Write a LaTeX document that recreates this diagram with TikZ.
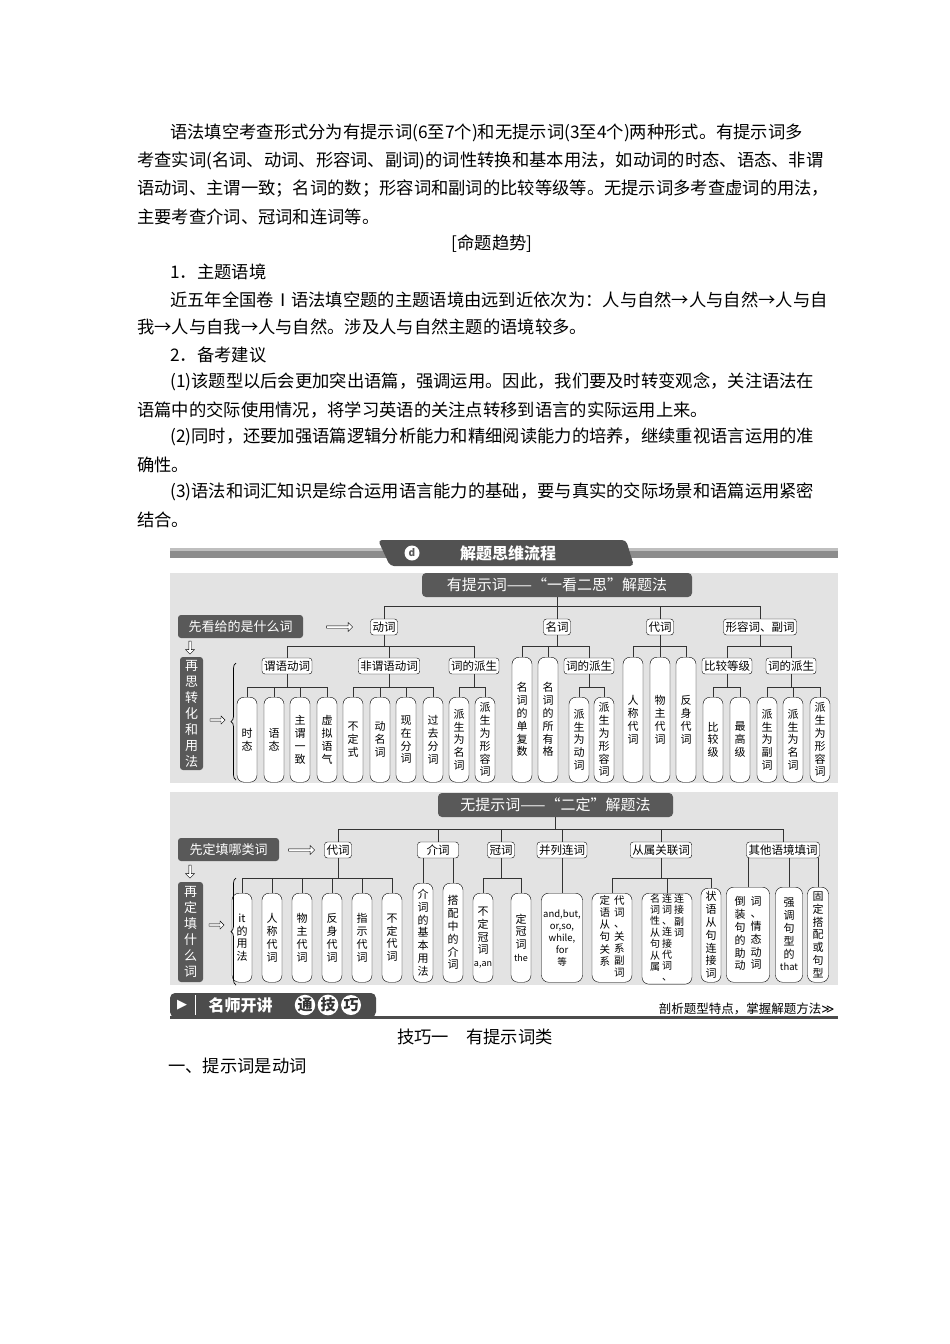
\documentclass[tikz,border=0pt]{standalone}
\usepackage{fontspec}
\setmainfont{Noto Sans CJK SC}
\newfontfamily\djv{DejaVu Sans}
\usetikzlibrary{shapes.arrows,decorations.pathreplacing}
\newcommand\vcl[1]{\begin{tabular}[t]{@{}c@{}}#1\end{tabular}}
\begin{document}
\begin{tikzpicture}[x=1pt,y=-1pt,
  body/.style={anchor=west,inner sep=0,font=\fontsize{17.3}{20}\selectfont},
  panel/.style={fill=black!11,draw=none},
  titlebox/.style={fill=black!65,text=white,rounded corners=4pt,font=\fontsize{15}{17}\selectfont,inner sep=0},
  darkbox/.style={fill=black!65,text=white,rounded corners=3pt,inner sep=0,align=center,font=\fontsize{13}{16}\selectfont},
  ibox/.style={draw,fill=white,rounded corners=3pt,inner sep=2pt,minimum height=16pt,font=\fontsize{11.5}{13}\selectfont},
  leaf/.style={draw,fill=white,rounded corners=7pt,anchor=north,inner sep=0.5pt,minimum width=20pt,align=center,font=\fontsize{11}{12.8}\selectfont},
  harrow/.style={draw,fill=white,single arrow,minimum height=26pt,minimum width=9pt,single arrow head extend=2.2pt,inner sep=0.6pt},
  varrow/.style={harrow,shape border rotate=270,minimum height=13pt},
  con/.style={line width=0.8pt,black!80},
  brc/.style={line width=0.7pt,decorate,decoration={brace,amplitude=5pt}}]
\useasboundingbox (0,0) rectangle (950,1344);
\fill[white] (0,0) rectangle (950,1344);
% body text
\node[body] (l1) at (170,133) {语法填空考查形式分为有提示词(6至7个)和无提示词(3至4个)两种形式。有提示词多};
\node[body] (l2) at (137,161) {考查实词(名词、动词、形容词、副词)的词性转换和基本用法，如动词的时态、语态、非谓};
\node[body] (l3) at (137,189) {语动词、主谓一致；名词的数；形容词和副词的比较等级等。无提示词多考查虚词的用法，};
\node[body] (l4) at (137,217) {主要考查介词、冠词和连词等。};
\node[body,anchor=center] (l5) at (492,244) {[命题趋势]};
\node[body] (l6) at (170,272) {1．主题语境};
\node[body] (l7) at (170,300) {近五年全国卷Ⅰ语法填空题的主题语境由远到近依次为：人与自然→人与自然→人与自};
\node[body] (l8) at (137,327) {我→人与自我→人与自然。涉及人与自然主题的语境较多。};
\node[body] (l9) at (170,355) {2．备考建议};
\node[body] (l10) at (170,382) {(1)该题型以后会更加突出语篇，强调运用。因此，我们要及时转变观念，关注语法在};
\node[body] (l11) at (137,410) {语篇中的交际使用情况，将学习英语的关注点转移到语言的实际运用上来。};
\node[body] (l12) at (170,437) {(2)同时，还要加强语篇逻辑分析能力和精细阅读能力的培养，继续重视语言运用的准};
\node[body] (l13) at (137,465) {确性。};
\node[body] (l14) at (170,492) {(3)语法和词汇知识是综合运用语言能力的基础，要与真实的交际场景和语篇运用紧密};
\node[body] (l15) at (137,520) {结合。};
% top banner
\fill[black!45] (170,548) rectangle (838,558);
\fill[black!25] (170,548) rectangle (838,551);
\fill[black!68,rounded corners=4pt] (378,540) -- (626,540) -- (634,566) -- (390,566) -- cycle;
\node[circle,fill=white,minimum size=15pt,inner sep=0,text=black!65,font=\bfseries\fontsize{10}{10}\selectfont] (ic) at (412,553) {d};
\node[text=white,font=\bfseries\fontsize{16}{18}\selectfont] (bt) at (508,553) {解题思维流程};
% panel 1
\fill[panel] (170,573) rectangle (838,783);
\node[titlebox,minimum width=270pt,minimum height=24pt] (t1) at (557,585) {有提示词——“一看二思”解题法};
\node[darkbox,minimum width=125pt,minimum height=23pt] (q1) at (240.5,626.5) {先看给的是什么词};
\node[harrow] (a1) at (339,627) {};
\node[ibox] (dong) at (384,627) {动词};
\node[ibox] (ming) at (557,627) {名词};
\node[ibox] (dai) at (660,627) {代词};
\node[ibox] (xing) at (760,627) {形容词、副词};
\coordinate (b0) at (0,606);
\coordinate (b1) at (0,646);
\coordinate (b2) at (0,687);
\draw[con] (t1.south) -- (t1.south|-b0);
\foreach \n in {dong,ming,dai,xing}{\draw[con] (\n.north) |- (t1.south|-b0);}
\node[ibox] (s1) at (287,666) {谓语动词};
\node[ibox] (s2) at (389,666) {非谓语动词};
\node[ibox] (s3) at (474,666) {词的派生};
\node[ibox] (s4) at (589,666) {词的派生};
\node[ibox] (s5) at (727,666) {比较等级};
\node[ibox] (s6) at (791,666) {词的派生};
\draw[con] (dong.south) -- (dong.south|-b1);
\foreach \n in {s1,s2,s3}{\draw[con] (\n.north) |- (dong.south|-b1);}
% verb leaves
\node[leaf,minimum height=85pt] (v1) at (247,697) {时\\态};
\node[leaf,minimum height=85pt] (v2) at (274,697) {语\\态};
\node[leaf,minimum height=85pt] (v3) at (300,697) {主\\谓\\一\\致};
\node[leaf,minimum height=85pt] (v4) at (327,697) {虚\\拟\\语\\气};
\node[leaf,minimum height=85pt] (v5) at (353,697) {不\\定\\式};
\node[leaf,minimum height=85pt] (v6) at (380,697) {动\\名\\词};
\node[leaf,minimum height=85pt] (v7) at (406,697) {现\\在\\分\\词};
\node[leaf,minimum height=85pt] (v8) at (433,697) {过\\去\\分\\词};
\node[leaf,minimum height=85pt] (v9) at (459,697) {派\\生\\为\\名\\词};
\node[leaf,minimum height=85pt] (v10) at (485,697) {派\\生\\为\\形\\容\\词};
\draw[con] (s1.south) -- (s1.south|-b2);
\foreach \n in {v1,v2,v3,v4}{\draw[con] (\n.north) |- (s1.south|-b2);}
\draw[con] (s2.south) -- (s2.south|-b2);
\foreach \n in {v5,v6,v7,v8}{\draw[con] (\n.north) |- (s2.south|-b2);}
\draw[con] (s3.south) -- (s3.south|-b2);
\foreach \n in {v9,v10}{\draw[con] (\n.north) |- (s3.south|-b2);}
% noun
\node[leaf,minimum height=125pt] (n1) at (522,657) {名\\词\\的\\单\\复\\数};
\node[leaf,minimum height=125pt] (n2) at (548,657) {名\\词\\的\\所\\有\\格};
\node[leaf,minimum height=85pt] (n3) at (579,697) {派\\生\\为\\动\\词};
\node[leaf,minimum height=85pt] (n4) at (604,697) {派\\生\\为\\形\\容\\词};
\draw[con] (ming.south) -- (ming.south|-b1);
\foreach \n in {n1,n2,s4}{\draw[con] (\n.north) |- (ming.south|-b1);}
\draw[con] (s4.south) -- (s4.south|-b2);
\foreach \n in {n3,n4}{\draw[con] (\n.north) |- (s4.south|-b2);}
% pronoun
\node[leaf,minimum height=125pt] (d1) at (633,657) {人\\称\\代\\词};
\node[leaf,minimum height=125pt] (d2) at (660,657) {物\\主\\代\\词};
\node[leaf,minimum height=125pt] (d3) at (686,657) {反\\身\\代\\词};
\draw[con] (dai.south) -- (dai.south|-b1);
\foreach \n in {d1,d2,d3}{\draw[con] (\n.north) |- (dai.south|-b1);}
% adj
\draw[con] (xing.south) -- (xing.south|-b1);
\foreach \n in {s5,s6}{\draw[con] (\n.north) |- (xing.south|-b1);}
\node[leaf,minimum height=85pt] (x1) at (713,697) {比\\较\\级};
\node[leaf,minimum height=85pt] (x2) at (740,697) {最\\高\\级};
\node[leaf,minimum height=85pt] (x3) at (767,697) {派\\生\\为\\副\\词};
\node[leaf,minimum height=85pt] (x4) at (793,697) {派\\生\\为\\名\\词};
\node[leaf,minimum height=85pt] (x5) at (820,697) {派\\生\\为\\形\\容\\词};
\draw[con] (s5.south) -- (s5.south|-b2);
\foreach \n in {x1,x2}{\draw[con] (\n.north) |- (s5.south|-b2);}
\draw[con] (s6.south) -- (s6.south|-b2);
\foreach \n in {x3,x4,x5}{\draw[con] (\n.north) |- (s6.south|-b2);}
% left column 1
\node[varrow] (da1) at (190,647) {};
\node[darkbox,minimum width=23pt,minimum height=113pt] (r1) at (191.5,713.5) {再\\思\\转\\化\\和\\用\\法};
\node[harrow,minimum height=15pt,minimum width=8pt] (a2) at (217,720) {};
\draw[brc] (236,780) -- (236,663);
% panel 2
\fill[panel] (170,792) rectangle (838,985);
\node[titlebox,minimum width=235pt,minimum height=24pt] (t2) at (555.5,805) {无提示词——“二定”解题法};
\node[darkbox,minimum width=101pt,minimum height=23pt] (q2) at (228.5,849.5) {先定填哪类词};
\node[harrow] (a3) at (301,850) {};
\node[ibox] (p1) at (338,850) {代词};
\node[ibox,minimum width=41pt] (p2) at (438,850) {介词};
\node[ibox] (p3) at (501,850) {冠词};
\node[ibox] (p4) at (562,850) {并列连词};
\node[ibox] (p5) at (661,850) {从属关联词};
\node[ibox] (p6) at (783,850) {其他语境填词};
\coordinate (c0) at (0,829);
\coordinate (c1) at (0,878);
\draw[con] (t2.south) -- (t2.south|-c0);
\foreach \n in {p1,p2,p3,p4,p5,p6}{\draw[con] (\n.north) |- (t2.south|-c0);}
\node[leaf,minimum height=89pt] (e1) at (242,893) {it\\的\\用\\法};
\node[leaf,minimum height=89pt] (e2) at (272,893) {人\\称\\代\\词};
\node[leaf,minimum height=89pt] (e3) at (302,893) {物\\主\\代\\词};
\node[leaf,minimum height=89pt] (e4) at (332,893) {反\\身\\代\\词};
\node[leaf,minimum height=89pt] (e5) at (362,893) {指\\示\\代\\词};
\node[leaf,minimum height=89pt] (e6) at (392,893) {不\\定\\代\\词};
\draw[con] (p1.south) -- (p1.south|-c1);
\foreach \n in {e1,e2,e3,e4,e5,e6}{\draw[con] (\n.north) |- (p1.south|-c1);}
\node[leaf,minimum height=99pt] (f1) at (423,883) {介\\词\\的\\基\\本\\用\\法};
\node[leaf,minimum height=99pt] (f2) at (453,883) {搭\\配\\中\\的\\介\\词};
\foreach \n in {f1,f2}{\draw[con] (\n.north) -- (\n.north|-p2.south);}
\node[leaf,minimum height=89pt] (g1) at (483,893) {不\\定\\冠\\词\\{\fontsize{9}{10}\selectfont a,an}};
\node[leaf,minimum height=89pt] (g2) at (521,893) {定\\冠\\词\\{\fontsize{9}{10}\selectfont the}};
\draw[con] (p3.south) -- (p3.south|-c1);
\foreach \n in {g1,g2}{\draw[con] (\n.north) |- (p3.south|-c1);}
\node[leaf,minimum height=89pt,minimum width=41pt,font=\fontsize{9.5}{12}\selectfont] (h1) at (562,893) {and,but,\\or,so,\\while,\\for\\等};
\draw[con] (h1.north) -- (p4.south);
\node[leaf,minimum height=89pt,minimum width=40pt,font=\fontsize{10.5}{11.6}\selectfont] (k1) at (612,893) {\vcl{定\\语\\从\\句\\关\\系}\hspace{4pt}\vcl{代\\词\\、\\关\\系\\副\\词}};
\node[leaf,minimum height=89pt,minimum width=50pt,font=\fontsize{10}{10.6}\selectfont] (k2) at (667,893) {\vcl{名\\词\\性\\从\\句\\从\\属}\hspace{2pt}\vcl{连\\词\\、\\连\\接\\代\\词\\、}\hspace{2pt}\vcl{连\\接\\副\\词}};
\node[leaf,minimum height=94pt] (k3) at (711,888) {状\\语\\从\\句\\连\\接\\词};
\draw[con] (p5.south) -- (p5.south|-c1);
\foreach \n in {k1,k2,k3}{\draw[con] (\n.north) |- (p5.south|-c1);}
\node[leaf,minimum height=95pt,minimum width=43pt,font=\fontsize{11}{12.4}\selectfont] (o1) at (748,887) {\vcl{倒\\装\\句\\的\\助\\动}\hspace{5pt}\vcl{词\\、\\情\\态\\动\\词}};
\node[leaf,minimum height=95pt,minimum width=27pt] (o2) at (789,887) {强\\调\\句\\型\\的\\{\fontsize{9.5}{10}\selectfont that}};
\node[leaf,minimum height=95pt,minimum width=21pt] (o3) at (818,887) {固\\定\\搭\\配\\或\\句\\型};
\foreach \n in {o1,o2,o3}{\draw[con] (\n.north) -- (\n.north|-p6.south);}
% left column 2
\node[varrow] (da2) at (190,871) {};
\node[darkbox,minimum width=25pt,minimum height=100pt] (r2) at (190.5,932) {再\\定\\填\\什\\么\\词};
\node[harrow,minimum height=15pt,minimum width=8pt] (a4) at (216,925) {};
\draw[brc] (236,985) -- (236,878);
% bottom banner
\fill[black!70,rounded corners=5pt] (170,1017) -- (170,993) -- (376,993) -- (376,1017) -- cycle;
\fill[black!70] (170,1016) rectangle (838,1019);
\node[text=white,font=\djv\fontsize{13}{13}\selectfont] (tri) at (182,1005) {▶};
\draw[white,line width=1pt] (195,995) -- (195,1015);
\node[text=white,anchor=west,font=\bfseries\fontsize{16}{18}\selectfont] (mk) at (205,1005) {名师开讲};
\foreach \c/\x in {通/305,技/328,巧/351}{\node[circle,fill=white,inner sep=0,minimum size=20pt,font=\bfseries\fontsize{15}{15}\selectfont,text=black!80] at (\x,1005) {\c};}
\node[anchor=east,font=\fontsize{12.5}{14}\selectfont] (rt) at (838,1009) {剖析题型特点，掌握解题方法{\djv ≫}};
\node[body,anchor=center] (j1) at (475,1037) {技巧一\quad 有提示词类};
\node[body] (j2) at (168,1066) {一、提示词是动词};
\end{tikzpicture}
\end{document}
